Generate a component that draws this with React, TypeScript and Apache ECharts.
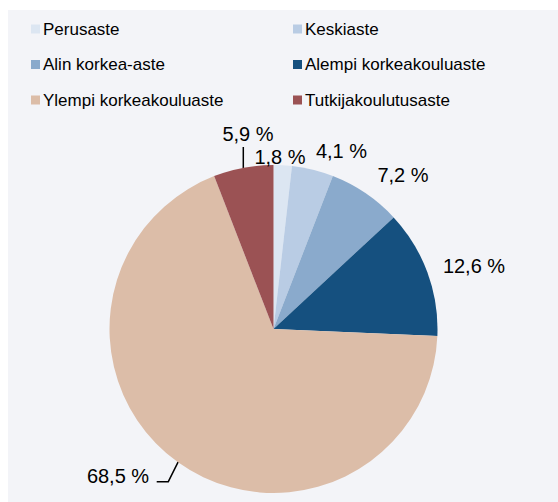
import React, { useEffect, useRef } from "react";
import * as echarts from "echarts";

const categories = [
  "Perusaste",
  "Keskiaste",
  "Alin korkea-aste",
  "Alempi korkeakouluaste",
  "Ylempi korkeakouluaste",
  "Tutkijakoulutusaste",
];
const values = [1.8, 4.1, 7.2, 12.6, 68.5, 5.9];
const colors = ["#dce6f2", "#b9cce4", "#8aaacc", "#15507f", "#dcbda8", "#9b5254"];
const leftLegend = ["Perusaste", "Alin korkea-aste", "Ylempi korkeakouluaste"];
const rightLegend = ["Keskiaste", "Alempi korkeakouluaste", "Tutkijakoulutusaste"];

// label placement (style, chart coordinates)
const labelPos: number[][] = [
  [272, 147],
  [333.5, 140.5],
  [395, 165],
  [466, 256],
  [110, 466],
  [240, 124],
];
const labelLines: (number[][] | null)[] = [
  null,
  null,
  null,
  null,
  [
    [170.3, 451.7],
    [160.3, 471.7],
    [148.7, 471.7],
  ],
  [
    [235.3, 158],
    [235.3, 137],
  ],
];

const FONT = "'Liberation Sans', Arial, sans-serif";

export default function App() {
  const ref = useRef<HTMLDivElement>(null);
  useEffect(() => {
    if (!ref.current) return;
    const chart = echarts.init(ref.current, undefined, { renderer: "svg" });
    const legendCommon = {
      orient: "vertical" as const,
      top: 9,
      padding: 0,
      itemWidth: 9,
      itemHeight: 9,
      itemGap: 15.5,
      icon: "rect",
      selectedMode: false,
      textStyle: {
        fontFamily: FONT,
        fontSize: 17,
        lineHeight: 20,
        color: "#000",
        padding: [0, 0, 0, -2],
      },
    };
    chart.setOption({
      animation: false,
      backgroundColor: "#f3f4f8",
      color: colors,
      legend: [
        { ...legendCommon, left: 23, data: leftLegend },
        { ...legendCommon, left: 285, data: rightLegend },
      ],
      series: [
        {
          type: "pie",
          center: [265.5, 319],
          radius: 164,
          startAngle: 90,
          clockwise: true,
          avoidLabelOverlap: false,
          emphasis: { disabled: true },
          label: {
            show: true,
            position: "outside",
            formatter: (p: any) => p.value.toFixed(1).replace(".", ",") + " %",
            fontFamily: FONT,
            fontSize: 20,
            color: "#000",
          },
          labelLine: {
            show: true,
            length: 0,
            length2: 0,
            lineStyle: { color: "#000", width: 1.5 },
          },
          labelLayout: (params: any) => {
            const i = params.dataIndex;
            const out: any = {
              x: labelPos[i][0],
              y: labelPos[i][1],
              align: "center",
              verticalAlign: "middle",
            };
            if (labelLines[i]) out.labelLinePoints = labelLines[i];
            return out;
          },
          data: categories.map((name, i) => ({
            name,
            value: values[i],
            labelLine: { show: labelLines[i] !== null },
          })),
        },
      ],
    });
    return () => chart.dispose();
  }, []);
  return (
    <div
      ref={ref}
      style={{ position: "absolute", left: 8, top: 10, width: 550, height: 492 }}
    />
  );
}
